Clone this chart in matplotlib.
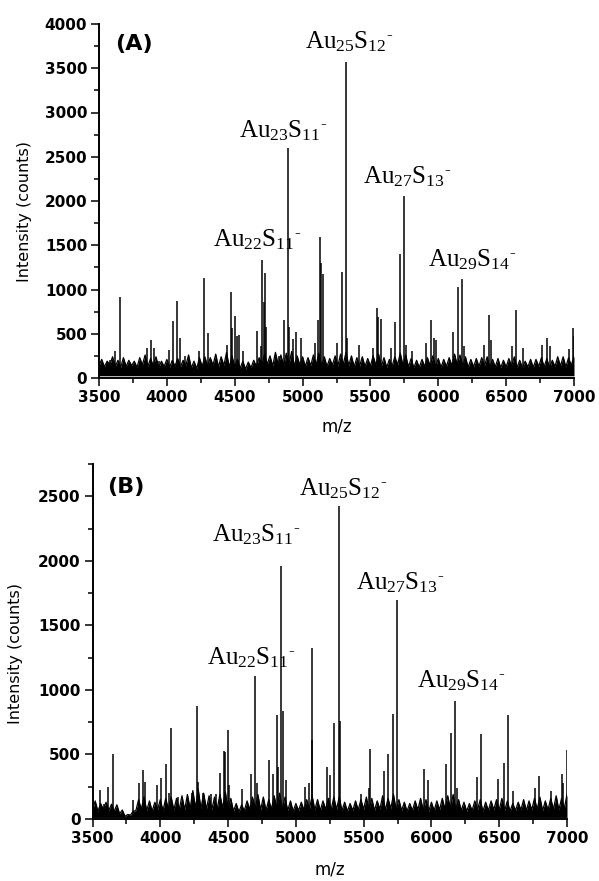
import numpy as np
import matplotlib
matplotlib.use("Agg")
import matplotlib.pyplot as plt
from matplotlib.ticker import MultipleLocator

plt.rcParams['mathtext.fontset'] = 'custom'
plt.rcParams['mathtext.rm'] = 'Liberation Serif'
plt.rcParams['mathtext.it'] = 'Liberation Serif:italic'
plt.rcParams['mathtext.bf'] = 'Liberation Serif:bold'

# ---------------- data ----------------
noise_mz = np.arange(3500, 7001, 20)

# baseline noise trace, every 20 m/z (counts)
noise_A = [140,210,125,190,150,240,130,200,120,230,
           130,200,140,190,120,230,150,260,130,220,
           140,240,115,190,130,210,120,200,135,220,
           125,200,140,260,115,190,105,230,130,240,
           135,230,145,270,125,240,140,290,120,250,
           125,210,110,190,100,180,115,200,130,230,
           145,270,155,250,135,290,150,260,140,280,
           155,300,135,250,145,240,130,230,140,260,
           150,280,135,240,130,220,145,250,135,270,
           155,290,140,250,125,230,135,240,130,220,
           135,250,145,270,130,230,120,210,135,240,
           150,280,140,260,125,220,115,200,120,210,
           130,230,135,250,125,220,120,210,130,230,
           140,270,145,260,130,240,120,210,125,220,
           130,230,135,240,120,210,125,220,115,200,
           125,220,135,240,120,200,115,190,125,210,
           120,210,130,230,125,220,115,200,130,240,
           135,240,125,230,140,250]
floor_A = 25

noise_B = [70,140,60,120,75,130,65,115,60,110,
           40,70,20,35,30,60,65,150,75,170,
           65,140,60,130,70,150,65,160,75,170,
           70,160,75,180,70,190,80,220,85,230,
           80,200,75,180,70,170,80,190,85,210,
           70,160,60,120,55,110,65,140,75,170,
           80,190,70,170,65,150,75,180,80,200,
           75,170,65,140,60,120,65,130,70,150,
           75,180,70,150,65,140,75,160,70,170,
           75,170,65,130,60,120,65,140,70,150,
           75,170,70,160,65,140,75,180,70,160,
           80,190,70,150,65,130,60,120,65,140,
           70,160,65,150,60,130,65,140,70,160,
           75,180,80,190,70,150,65,130,60,120,
           65,140,70,150,60,130,65,140,70,150,
           70,160,65,140,60,120,65,130,70,150,
           65,140,70,160,75,170,65,140,70,160,
           75,180,70,160,80,190]
floor_B = 12

peaks_A_mz = [3557,3580,3618,3652,3684,3851,3881,3904,3944,4013,4043,4075,4097,4136,
              4239,4274,4305,4440,4472,4478,4500,4519,4529,4563,4664,4691,4703,4713,
              4723,4730,4829,4863,4895,4902,4927,4951,4986,5092,5117,5128,5133,5148,
              5254,5290,5320,5330,5416,5516,5546,5553,5575,5651,5683,5718,5750,5762,
              5804,5909,5946,5968,5981,6110,6143,6174,6189,6337,6371,6386,6540,6570,
              6621,6762,6798,6823,6965,6995,7000]
peaks_A_int = [185,200,300,915,190,340,435,340,190,320,644,870,448,250,
               300,1130,505,370,970,560,700,470,485,300,530,360,1333,860,
               1183,580,250,655,2600,580,440,520,450,395,655,1590,1303,1175,
               395,1200,3570,450,370,340,787,693,663,340,629,1400,2057,370,
               300,395,655,450,430,515,1025,1115,360,375,710,430,360,770,
               340,375,450,360,330,570,480]

peaks_B_mz = [3555,3585,3612,3649,3801,3843,3875,3890,3973,4008,4040,4064,4077,4130,
              4236,4273,4281,4317,4374,4411,4440,4470,4480,4499,4510,4602,4667,4699,
              4712,4803,4833,4863,4870,4890,4903,4927,5067,5097,5117,5121,5227,5252,
              5284,5320,5328,5480,5537,5547,5652,5682,5714,5746,5945,5975,6107,6141,
              6174,6186,6334,6368,6493,6535,6567,6603,6765,6795,6882,6960,6972,6998]
peaks_B_int = [225,120,245,500,150,277,380,290,260,315,424,200,708,170,
               200,876,290,200,190,190,354,527,520,690,260,230,346,1108,
               280,457,345,804,400,1960,840,300,250,280,612,1323,405,340,
               746,2426,760,190,240,543,372,504,814,1697,385,300,424,669,
               915,240,323,659,310,432,806,220,240,333,220,350,280,535]

species = [r'Au$_{22}$S$_{11}{}^{\text{-}}$', r'Au$_{23}$S$_{11}{}^{\text{-}}$',
           r'Au$_{25}$S$_{12}{}^{\text{-}}$', r'Au$_{27}$S$_{13}{}^{\text{-}}$',
           r'Au$_{29}$S$_{14}{}^{\text{-}}$']
label_A_mz = [4340, 4531, 5018, 5445, 5924]
label_A_y = [1491, 2723, 3729, 2203, 1265]
label_B_mz = [4345, 4381, 5023, 5444, 5893]
label_B_y = [1194, 2147, 2504, 1775, 1023]

xticks = [3500, 4000, 4500, 5000, 5500, 6000, 6500, 7000]

# ---------------- drawing ----------------
W, H = 599, 881
fig = plt.figure(figsize=(W/100, H/100), dpi=100)

def make_ax(rect, ymax, noise, floor, pmz, pint, lmz, ly, tag, tagxy):
    ax = fig.add_axes(rect)
    ax.fill_between(noise_mz, floor, noise, color='black', lw=0)
    ax.plot(noise_mz, noise, color='black', lw=0.9)
    ax.vlines(pmz, floor, pint, color='black', lw=1.1)
    ax.set_xlim(3500, 7000)
    ax.set_ylim(0, ymax)
    ax.set_xticks(xticks)
    ax.yaxis.set_major_locator(MultipleLocator(500))
    ax.xaxis.set_minor_locator(MultipleLocator(250))
    ax.yaxis.set_minor_locator(MultipleLocator(250))
    for s in ['top', 'right']:
        ax.spines[s].set_visible(False)
    for s in ['left', 'bottom']:
        ax.spines[s].set_linewidth(1.4)
    ax.tick_params(which='major', direction='out', length=5.5, width=1.1, pad=3)
    ax.tick_params(which='minor', direction='out', length=3.5, width=1.1)
    for lab in ax.get_xticklabels() + ax.get_yticklabels():
        lab.set_fontfamily('DejaVu Sans')
        lab.set_fontweight('bold')
        lab.set_fontsize(11)
    for t, x, y in zip(species, lmz, ly):
        ax.text(x, y, t, fontsize=18, fontfamily='Liberation Serif',
                ha='left', va='baseline')
    ax.text(tagxy[0], tagxy[1], '(' + tag + ')', fontsize=16, fontfamily='DejaVu Sans',
            fontweight='bold', ha='left', va='baseline')
    ax.set_ylabel('Intensity (counts)', fontsize=11.5, fontfamily='DejaVu Sans')
    return ax

axA = make_ax([99/W, 1-378/H, 475/W, 354/H], 4000, noise_A, floor_A,
              peaks_A_mz, peaks_A_int, label_A_mz, label_A_y, 'A', (3618, 3706))
axA.yaxis.set_label_coords(-0.141, 0.47)
fig.text(336.5/W, 1-426/H, 'm/z', fontsize=12, fontfamily='DejaVu Sans',
         ha='center', va='center')

axB = make_ax([92.5/W, 1-819/H, 474.5/W, 355/H], 2750, noise_B, floor_B,
              peaks_B_mz, peaks_B_int, label_B_mz, label_B_y, 'B', (3607, 2527))
axB.set_yticks([0, 500, 1000, 1500, 2000, 2500])
axB.yaxis.set_minor_locator(MultipleLocator(250))
axB.yaxis.set_label_coords(-0.146, 0.465)
fig.text(330/W, 1-869/H, 'm/z', fontsize=12, fontfamily='DejaVu Sans',
         ha='center', va='center')

fig.savefig('out.png', dpi=100)
